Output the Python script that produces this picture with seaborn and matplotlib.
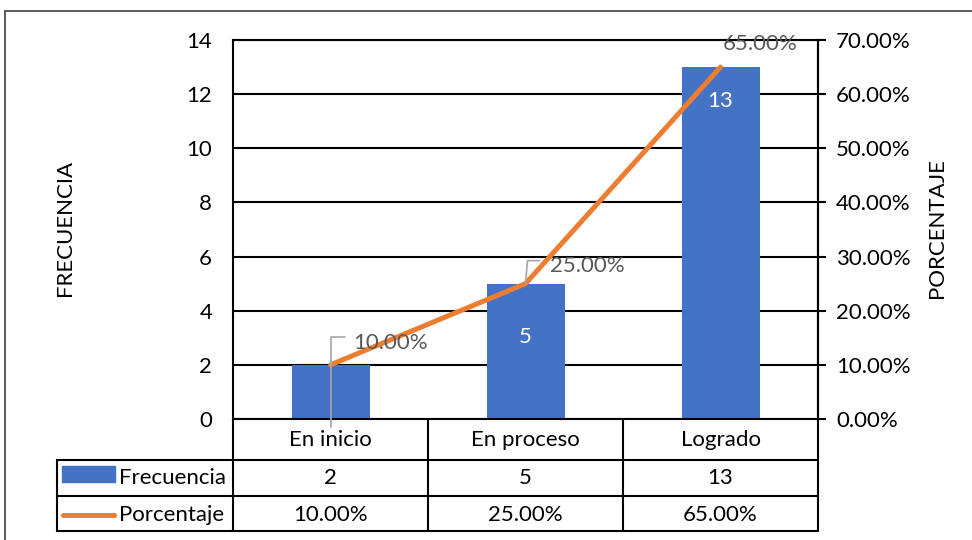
import matplotlib
matplotlib.use("Agg")
import matplotlib.pyplot as plt
import matplotlib.transforms as mtransforms
from matplotlib.patches import Rectangle
from matplotlib.lines import Line2D
import seaborn as sns

# datos
categorias = ["En inicio", "En proceso", "Logrado"]
frecuencia = [2, 5, 13]
porcentaje = [10.0, 25.0, 65.0]

AZUL = "#4472C4"
NARANJA = "#ED7D31"
GRIS = "#595959"

sns.set_theme(style="white")
plt.rcParams["font.family"] = ["Lato", "DejaVu Sans"]
FS = 16

W, H = 972, 540
fig = plt.figure(figsize=(W / 100, H / 100), dpi=100)


def fx(x):
    return x / W


def fy(y):
    return 1 - y / H


ax = fig.add_axes([fx(233), fy(419), (818 - 233) / W, (419 - 40) / H])

# barras
sns.barplot(x=categorias, y=frecuencia, color=AZUL, width=0.4, saturation=1,
            linewidth=0, ax=ax, zorder=2)
ax.set_ylim(0, 14)
ax.set_yticks(range(0, 15, 2))
ax.yaxis.grid(True, color="black", lw=1.5, zorder=0)
ax.set_axisbelow(True)
for s in ax.spines.values():
    s.set_color("black")
    s.set_linewidth(1.5)
ax.tick_params(axis="y", length=0, pad=15, labelsize=FS, labelcolor="black")
ax.tick_params(axis="x", length=0, labelbottom=False)
ax.set_xlabel("")
ax.set_ylabel("")

# línea de porcentaje
ax2 = ax.twinx()
sns.lineplot(x=categorias, y=porcentaje, color=NARANJA, lw=3.6, sort=False, ax=ax2, zorder=3)
ax2.set_ylim(0, 70)
ax2.set_yticks(range(0, 71, 10))
ax2.set_yticklabels([f"{v:.2f}%" for v in range(0, 71, 10)])
ax2.tick_params(axis="y", length=6, width=1.5, color="black", pad=7, labelsize=FS, labelcolor="black")
ax2.set_ylabel("")
ax2.set_xlabel("")
ax2.grid(False)
for s in ax2.spines.values():
    s.set_visible(False)
ax2.spines["right"].set_visible(True)
ax2.spines["right"].set_color("black")
ax2.spines["right"].set_linewidth(1.5)
ax.set_xlim(-0.5, 2.5)
ax2.set_xlim(-0.5, 2.5)

# etiquetas de la línea
offs = [(23, 22), (24, 18), (2, 23)]
for i, (p, o) in enumerate(zip(porcentaje, offs)):
    ax2.annotate(f"{p:.2f}%", xy=(i, p), xytext=o, textcoords="offset pixels",
                 ha="left", va="center", fontsize=FS, color=GRIS, zorder=5)

# líneas guía
fig.canvas.draw()
x0, y0 = ax2.transData.transform((0, porcentaje[0]))
x1, y1 = ax2.transData.transform((1, porcentaje[1]))
fig.add_artist(Line2D([x0 + 14, x0, x0], [y0 + 28, y0 + 28, y0 - 62], transform=None,
                      color="#A6A6A6", lw=1.2, zorder=4))
fig.add_artist(Line2D([x1, x1 + 2, x1 + 14], [y1, y1 + 23, y1 + 23], transform=None,
                      color="#A6A6A6", lw=1.2, zorder=4))

# etiquetas de barras
bar_offs = [None, -53, -34]
for i, (v, o) in enumerate(zip(frecuencia, bar_offs)):
    if o is None:
        continue
    ax.annotate(str(v), xy=(i, v), xytext=(0, o), textcoords="offset pixels",
                ha="center", va="center", fontsize=FS, color="white", zorder=4)

# títulos de ejes
fig.text(fx(65), fy(228), "FRECUENCIA", rotation=90, ha="center", va="center", fontsize=FS, color="black")
fig.text(fx(937), fy(228), "PORCENTAJE", rotation=90, ha="center", va="center", fontsize=FS, color="black")

# tabla de datos
tr = mtransforms.blended_transform_factory(ax.transData, fig.transFigure)
lk = dict(color="black", lw=1.5)
for yy in (460, 496, 531):
    fig.add_artist(Line2D([fx(57), fx(818)], [fy(yy), fy(yy)], transform=fig.transFigure, **lk))
for xx in (233, 818):
    fig.add_artist(Line2D([fx(xx), fx(xx)], [fy(419), fy(531)], transform=fig.transFigure, **lk))
fig.add_artist(Line2D([fx(57), fx(57)], [fy(460), fy(531)], transform=fig.transFigure, **lk))
for xs in (0.5, 1.5):
    fig.add_artist(Line2D([xs, xs], [fy(419), fy(531)], transform=tr, **lk))

for i, cat in enumerate(categorias):
    fig.text(i, fy(440), cat, transform=tr, ha="center", va="center", fontsize=FS, color="black")
    fig.text(i, fy(478), str(frecuencia[i]), transform=tr, ha="center", va="center", fontsize=FS, color="black")
    fig.text(i, fy(515), f"{porcentaje[i]:.2f}%", transform=tr, ha="center", va="center", fontsize=FS, color="black")

fig.add_artist(Rectangle((fx(62), fy(482)), fx(115) - fx(62), fy(466) - fy(482),
                         transform=fig.transFigure, color=AZUL))
fig.add_artist(Line2D([fx(63), fx(114)], [fy(515), fy(515)], transform=fig.transFigure,
                      color=NARANJA, lw=3.6, solid_capstyle="round"))
fig.text(fx(119), fy(478), "Frecuencia", ha="left", va="center", fontsize=FS, color="black")
fig.text(fx(119), fy(515), "Porcentaje", ha="left", va="center", fontsize=FS, color="black")

# marco exterior
fig.add_artist(Line2D([fx(5), fx(972)], [fy(11), fy(11)], transform=fig.transFigure, color="#404040", lw=1.2))
fig.add_artist(Line2D([fx(5), fx(5)], [fy(11), fy(540)], transform=fig.transFigure, color="#404040", lw=1.2))

fig.savefig("out.png", dpi=100)
